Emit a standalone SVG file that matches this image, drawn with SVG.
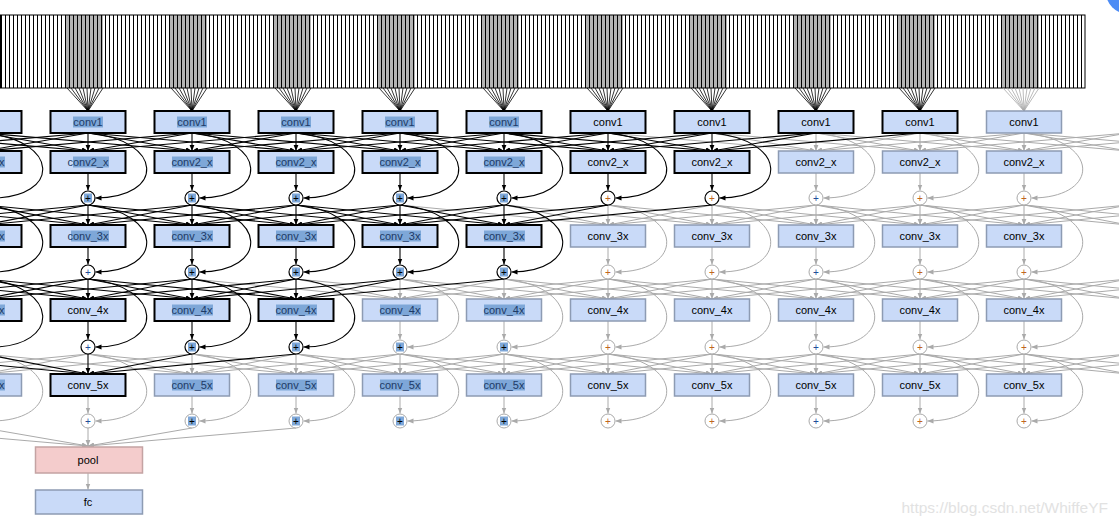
<svg xmlns="http://www.w3.org/2000/svg" width="1119" height="527" viewBox="0 0 1119 527">
<style>
.bx{fill:#c9daf8;stroke:#000;stroke-width:2}
.bg{fill:#c9daf8;stroke:#8d9bb3;stroke-width:1.5}
.t{font-family:"Liberation Sans",Arial,sans-serif;font-size:11px;text-anchor:middle;fill:#000}
.th{fill:#1d3a66}
.hl{fill:#7ea7d8}
.cb{fill:#fff;stroke:#000;stroke-width:1.2}
.cg{fill:#fff;stroke:#aaa;stroke-width:1}
.pt{font-family:"Liberation Sans",Arial,sans-serif;font-size:10px;text-anchor:middle;fill:#000}
.po{fill:#c0651d}
.pb{fill:#1f4e9a}
.lb{stroke:#000;stroke-width:1.1;fill:none;marker-end:url(#ab)}
.lg{stroke:#aaa;stroke-width:1;fill:none;marker-end:url(#ag)}
.fb{stroke:#000;stroke-width:0.8}
.fg{stroke:#aaa;stroke-width:0.8}
.band{fill:#b4b4b4}
</style>
<defs>
<marker id="ab" viewBox="0 0 10 10" refX="10" refY="5" markerWidth="6" markerHeight="6" markerUnits="userSpaceOnUse" orient="auto"><path d="M0,1 L10,5 L0,9 z" fill="#000"/></marker>
<marker id="ag" viewBox="0 0 10 10" refX="10" refY="5" markerWidth="6" markerHeight="6" markerUnits="userSpaceOnUse" orient="auto"><path d="M0,1 L10,5 L0,9 z" fill="#aaa"/></marker>
<pattern id="st" patternUnits="userSpaceOnUse" x="1" y="0" width="4" height="100"><line x1="0.5" y1="0" x2="0.5" y2="100" stroke="#000" stroke-width="1"/></pattern>
<g id="fan"><line x1="-21" y1="88" x2="0" y2="111"/><line x1="-17" y1="88" x2="0" y2="111"/><line x1="-13" y1="88" x2="0" y2="111"/><line x1="-9" y1="88" x2="0" y2="111"/><line x1="-5" y1="88" x2="0" y2="111"/><line x1="-1" y1="88" x2="0" y2="111"/><line x1="3" y1="88" x2="0" y2="111"/><line x1="7" y1="88" x2="0" y2="111"/><line x1="11" y1="88" x2="0" y2="111"/><line x1="15" y1="88" x2="0" y2="111"/></g>
<g id="b18" class="lb"><line x1="-208" y1="0" x2="0" y2="18"/><line x1="-104" y1="0" x2="0" y2="18"/><line x1="0" y1="0" x2="0" y2="18"/><line x1="104" y1="0" x2="0" y2="18"/><line x1="208" y1="0" x2="0" y2="18"/></g>
<g id="g18" class="lg"><line x1="-208" y1="0" x2="0" y2="18"/><line x1="-104" y1="0" x2="0" y2="18"/><line x1="0" y1="0" x2="0" y2="18"/><line x1="104" y1="0" x2="0" y2="18"/><line x1="208" y1="0" x2="0" y2="18"/></g>
<g id="b20" class="lb"><line x1="-208" y1="0" x2="0" y2="20"/><line x1="-104" y1="0" x2="0" y2="20"/><line x1="0" y1="0" x2="0" y2="20"/><line x1="104" y1="0" x2="0" y2="20"/><line x1="208" y1="0" x2="0" y2="20"/></g>
<g id="g20" class="lg"><line x1="-208" y1="0" x2="0" y2="20"/><line x1="-104" y1="0" x2="0" y2="20"/><line x1="0" y1="0" x2="0" y2="20"/><line x1="104" y1="0" x2="0" y2="20"/><line x1="208" y1="0" x2="0" y2="20"/></g>
</defs>
<rect x="0" y="0" width="1119" height="527" fill="#fff"/>

<g id="input-strip">
<rect class="band" x="65" y="15" width="38" height="73"/>
<rect class="band" x="169" y="15" width="38" height="73"/>
<rect class="band" x="273" y="15" width="38" height="73"/>
<rect class="band" x="377" y="15" width="38" height="73"/>
<rect class="band" x="481" y="15" width="38" height="73"/>
<rect class="band" x="585" y="15" width="38" height="73"/>
<rect class="band" x="689" y="15" width="38" height="73"/>
<rect class="band" x="793" y="15" width="38" height="73"/>
<rect class="band" x="897" y="15" width="38" height="73"/>
<rect class="band" x="1001" y="15" width="38" height="73"/>
<rect x="0.5" y="15" width="1084.5" height="73" fill="url(#st)" stroke="#000" stroke-width="1"/>
</g>

<g id="connectors">
<use href="#fan" class="fb" x="88"/>
<use href="#fan" class="fb" x="192"/>
<use href="#fan" class="fb" x="296"/>
<use href="#fan" class="fb" x="400"/>
<use href="#fan" class="fb" x="504"/>
<use href="#fan" class="fb" x="608"/>
<use href="#fan" class="fb" x="712"/>
<use href="#fan" class="fb" x="816"/>
<use href="#fan" class="fb" x="920"/>
<use href="#fan" class="fg" x="1024"/>

<use href="#g18" x="816" y="133"/><use href="#g18" x="920" y="133"/><use href="#g18" x="1024" y="133"/><use href="#g18" x="1128" y="133"/><use href="#g18" x="1232" y="133"/>
<use href="#g20" x="608" y="205"/><use href="#g20" x="712" y="205"/><use href="#g20" x="816" y="205"/><use href="#g20" x="920" y="205"/><use href="#g20" x="1024" y="205"/><use href="#g20" x="1128" y="205"/><use href="#g20" x="1232" y="205"/>
<use href="#g20" x="400" y="279"/><use href="#g20" x="504" y="279"/><use href="#g20" x="608" y="279"/><use href="#g20" x="712" y="279"/><use href="#g20" x="816" y="279"/><use href="#g20" x="920" y="279"/><use href="#g20" x="1024" y="279"/><use href="#g20" x="1128" y="279"/><use href="#g20" x="1232" y="279"/>
<use href="#g20" x="-120" y="354"/><use href="#g20" x="-16" y="354"/><use href="#g20" x="192" y="354"/><use href="#g20" x="296" y="354"/><use href="#g20" x="400" y="354"/><use href="#g20" x="504" y="354"/><use href="#g20" x="608" y="354"/><use href="#g20" x="712" y="354"/><use href="#g20" x="816" y="354"/><use href="#g20" x="920" y="354"/><use href="#g20" x="1024" y="354"/><use href="#g20" x="1128" y="354"/><use href="#g20" x="1232" y="354"/>
<use href="#g18" x="88" y="428"/>

<path class="lg" d="M816,133 C893,140 893,198 823.5,198"/>
<path class="lg" d="M920,133 C997,140 997,198 927.5,198"/>
<path class="lg" d="M1024,133 C1101,140 1101,198 1031.5,198"/>
<line class="lg" x1="816" y1="173" x2="816" y2="190.5"/>
<line class="lg" x1="920" y1="173" x2="920" y2="190.5"/>
<line class="lg" x1="1024" y1="173" x2="1024" y2="190.5"/>

<path class="lg" d="M608,205 C685,212 685,272 615.5,272"/>
<path class="lg" d="M712,205 C789,212 789,272 719.5,272"/>
<path class="lg" d="M816,205 C893,212 893,272 823.5,272"/>
<path class="lg" d="M920,205 C997,212 997,272 927.5,272"/>
<path class="lg" d="M1024,205 C1101,212 1101,272 1031.5,272"/>
<line class="lg" x1="608" y1="247" x2="608" y2="264.5"/>
<line class="lg" x1="712" y1="247" x2="712" y2="264.5"/>
<line class="lg" x1="816" y1="247" x2="816" y2="264.5"/>
<line class="lg" x1="920" y1="247" x2="920" y2="264.5"/>
<line class="lg" x1="1024" y1="247" x2="1024" y2="264.5"/>

<path class="lg" d="M400,279 C477,286 477,347 407.5,347"/>
<path class="lg" d="M504,279 C581,286 581,347 511.5,347"/>
<path class="lg" d="M608,279 C685,286 685,347 615.5,347"/>
<path class="lg" d="M712,279 C789,286 789,347 719.5,347"/>
<path class="lg" d="M816,279 C893,286 893,347 823.5,347"/>
<path class="lg" d="M920,279 C997,286 997,347 927.5,347"/>
<path class="lg" d="M1024,279 C1101,286 1101,347 1031.5,347"/>
<line class="lg" x1="400" y1="321" x2="400" y2="339.5"/>
<line class="lg" x1="504" y1="321" x2="504" y2="339.5"/>
<line class="lg" x1="608" y1="321" x2="608" y2="339.5"/>
<line class="lg" x1="712" y1="321" x2="712" y2="339.5"/>
<line class="lg" x1="816" y1="321" x2="816" y2="339.5"/>
<line class="lg" x1="920" y1="321" x2="920" y2="339.5"/>
<line class="lg" x1="1024" y1="321" x2="1024" y2="339.5"/>

<path class="lg" d="M-16,354 C61,361 61,421 -8.5,421"/>
<path class="lg" d="M88,354 C165,361 165,421 95.5,421"/>
<path class="lg" d="M192,354 C269,361 269,421 199.5,421"/>
<path class="lg" d="M296,354 C373,361 373,421 303.5,421"/>
<path class="lg" d="M400,354 C477,361 477,421 407.5,421"/>
<path class="lg" d="M504,354 C581,361 581,421 511.5,421"/>
<path class="lg" d="M608,354 C685,361 685,421 615.5,421"/>
<path class="lg" d="M712,354 C789,361 789,421 719.5,421"/>
<path class="lg" d="M816,354 C893,361 893,421 823.5,421"/>
<path class="lg" d="M920,354 C997,361 997,421 927.5,421"/>
<path class="lg" d="M1024,354 C1101,361 1101,421 1031.5,421"/>
<line class="lg" x1="88" y1="396" x2="88" y2="413.5"/>
<line class="lg" x1="192" y1="396" x2="192" y2="413.5"/>
<line class="lg" x1="296" y1="396" x2="296" y2="413.5"/>
<line class="lg" x1="400" y1="396" x2="400" y2="413.5"/>
<line class="lg" x1="504" y1="396" x2="504" y2="413.5"/>
<line class="lg" x1="608" y1="396" x2="608" y2="413.5"/>
<line class="lg" x1="712" y1="396" x2="712" y2="413.5"/>
<line class="lg" x1="816" y1="396" x2="816" y2="413.5"/>
<line class="lg" x1="920" y1="396" x2="920" y2="413.5"/>
<line class="lg" x1="1024" y1="396" x2="1024" y2="413.5"/>
<line class="lg" x1="88" y1="473" x2="88" y2="489.5"/>

<use href="#b18" x="-120" y="133"/><use href="#b18" x="-16" y="133"/><use href="#b18" x="88" y="133"/><use href="#b18" x="192" y="133"/><use href="#b18" x="296" y="133"/><use href="#b18" x="400" y="133"/><use href="#b18" x="504" y="133"/><use href="#b18" x="608" y="133"/><use href="#b18" x="712" y="133"/>
<use href="#b20" x="-120" y="205"/><use href="#b20" x="-16" y="205"/><use href="#b20" x="88" y="205"/><use href="#b20" x="192" y="205"/><use href="#b20" x="296" y="205"/><use href="#b20" x="400" y="205"/><use href="#b20" x="504" y="205"/>
<use href="#b20" x="-120" y="279"/><use href="#b20" x="-16" y="279"/><use href="#b20" x="88" y="279"/><use href="#b20" x="192" y="279"/><use href="#b20" x="296" y="279"/>
<use href="#b20" x="88" y="354"/>

<path class="lb" d="M-16,133 C61,140 61,198 -8.5,198"/>
<path class="lb" d="M88,133 C165,140 165,198 95.5,198"/>
<path class="lb" d="M192,133 C269,140 269,198 199.5,198"/>
<path class="lb" d="M296,133 C373,140 373,198 303.5,198"/>
<path class="lb" d="M400,133 C477,140 477,198 407.5,198"/>
<path class="lb" d="M504,133 C581,140 581,198 511.5,198"/>
<path class="lb" d="M608,133 C685,140 685,198 615.5,198"/>
<path class="lb" d="M712,133 C789,140 789,198 719.5,198"/>
<line class="lb" x1="88" y1="173" x2="88" y2="190.5"/>
<line class="lb" x1="192" y1="173" x2="192" y2="190.5"/>
<line class="lb" x1="296" y1="173" x2="296" y2="190.5"/>
<line class="lb" x1="400" y1="173" x2="400" y2="190.5"/>
<line class="lb" x1="504" y1="173" x2="504" y2="190.5"/>
<line class="lb" x1="608" y1="173" x2="608" y2="190.5"/>
<line class="lb" x1="712" y1="173" x2="712" y2="190.5"/>

<path class="lb" d="M-16,205 C61,212 61,272 -8.5,272"/>
<path class="lb" d="M88,205 C165,212 165,272 95.5,272"/>
<path class="lb" d="M192,205 C269,212 269,272 199.5,272"/>
<path class="lb" d="M296,205 C373,212 373,272 303.5,272"/>
<path class="lb" d="M400,205 C477,212 477,272 407.5,272"/>
<path class="lb" d="M504,205 C581,212 581,272 511.5,272"/>
<line class="lb" x1="88" y1="247" x2="88" y2="264.5"/>
<line class="lb" x1="192" y1="247" x2="192" y2="264.5"/>
<line class="lb" x1="296" y1="247" x2="296" y2="264.5"/>
<line class="lb" x1="400" y1="247" x2="400" y2="264.5"/>
<line class="lb" x1="504" y1="247" x2="504" y2="264.5"/>

<path class="lb" d="M-16,279 C61,286 61,347 -8.5,347"/>
<path class="lb" d="M88,279 C165,286 165,347 95.5,347"/>
<path class="lb" d="M192,279 C269,286 269,347 199.5,347"/>
<path class="lb" d="M296,279 C373,286 373,347 303.5,347"/>
<line class="lb" x1="88" y1="321" x2="88" y2="339.5"/>
<line class="lb" x1="192" y1="321" x2="192" y2="339.5"/>
<line class="lb" x1="296" y1="321" x2="296" y2="339.5"/>
</g>

<g id="conv1-m1"><rect class="bx" x="-53.5" y="111" width="75" height="22"/><text class="t" x="-16" y="126">conv1</text></g>
<g id="conv1-0"><rect class="bx" x="50.5" y="111" width="75" height="22"/><rect class="hl" x="73" y="116.5" width="30" height="11"/><text class="t th" x="88" y="126">conv1</text></g>
<g id="conv1-1"><rect class="bx" x="154.5" y="111" width="75" height="22"/><rect class="hl" x="177" y="116.5" width="30" height="11"/><text class="t th" x="192" y="126">conv1</text></g>
<g id="conv1-2"><rect class="bx" x="258.5" y="111" width="75" height="22"/><rect class="hl" x="281" y="116.5" width="30" height="11"/><text class="t th" x="296" y="126">conv1</text></g>
<g id="conv1-3"><rect class="bx" x="362.5" y="111" width="75" height="22"/><rect class="hl" x="385" y="116.5" width="30" height="11"/><text class="t th" x="400" y="126">conv1</text></g>
<g id="conv1-4"><rect class="bx" x="466.5" y="111" width="75" height="22"/><rect class="hl" x="489" y="116.5" width="30" height="11"/><text class="t th" x="504" y="126">conv1</text></g>
<g id="conv1-5"><rect class="bx" x="570.5" y="111" width="75" height="22"/><text class="t" x="608" y="126">conv1</text></g>
<g id="conv1-6"><rect class="bx" x="674.5" y="111" width="75" height="22"/><text class="t" x="712" y="126">conv1</text></g>
<g id="conv1-7"><rect class="bx" x="778.5" y="111" width="75" height="22"/><text class="t" x="816" y="126">conv1</text></g>
<g id="conv1-8"><rect class="bx" x="882.5" y="111" width="75" height="22"/><text class="t" x="920" y="126">conv1</text></g>
<g id="conv1-9"><rect class="bg" x="986.5" y="111" width="75" height="22"/><text class="t" x="1024" y="126">conv1</text></g>

<g id="conv2-m1"><rect class="bx" x="-53.5" y="151" width="75" height="22"/><rect class="hl" x="-37" y="156.5" width="42" height="11"/><text class="t th" x="-16" y="166">conv2_x</text></g>
<g id="conv2-0"><rect class="bx" x="50.5" y="151" width="75" height="22"/><rect class="hl" x="73" y="156.5" width="36" height="11"/><text class="t th" x="88" y="166">conv2_x</text></g>
<g id="conv2-1"><rect class="bx" x="154.5" y="151" width="75" height="22"/><rect class="hl" x="172" y="156.5" width="41" height="11"/><text class="t th" x="192" y="166">conv2_x</text></g>
<g id="conv2-2"><rect class="bx" x="258.5" y="151" width="75" height="22"/><rect class="hl" x="276" y="156.5" width="41" height="11"/><text class="t th" x="296" y="166">conv2_x</text></g>
<g id="conv2-3"><rect class="bx" x="362.5" y="151" width="75" height="22"/><rect class="hl" x="380" y="156.5" width="41" height="11"/><text class="t th" x="400" y="166">conv2_x</text></g>
<g id="conv2-4"><rect class="bx" x="466.5" y="151" width="75" height="22"/><rect class="hl" x="484" y="156.5" width="41" height="11"/><text class="t th" x="504" y="166">conv2_x</text></g>
<g id="conv2-5"><rect class="bx" x="570.5" y="151" width="75" height="22"/><text class="t" x="608" y="166">conv2_x</text></g>
<g id="conv2-6"><rect class="bx" x="674.5" y="151" width="75" height="22"/><text class="t" x="712" y="166">conv2_x</text></g>
<g id="conv2-7"><rect class="bg" x="778.5" y="151" width="75" height="22"/><text class="t" x="816" y="166">conv2_x</text></g>
<g id="conv2-8"><rect class="bg" x="882.5" y="151" width="75" height="22"/><text class="t" x="920" y="166">conv2_x</text></g>
<g id="conv2-9"><rect class="bg" x="986.5" y="151" width="75" height="22"/><text class="t" x="1024" y="166">conv2_x</text></g>

<g id="add1-0"><circle class="cb" cx="88" cy="198" r="7"/><rect class="hl" x="84" y="193.5" width="8" height="9"/><text class="pt th" x="88" y="201.5">+</text></g>
<g id="add1-1"><circle class="cb" cx="192" cy="198" r="7"/><rect class="hl" x="188" y="193.5" width="8" height="9"/><text class="pt th" x="192" y="201.5">+</text></g>
<g id="add1-2"><circle class="cb" cx="296" cy="198" r="7"/><rect class="hl" x="292" y="193.5" width="8" height="9"/><text class="pt th" x="296" y="201.5">+</text></g>
<g id="add1-3"><circle class="cb" cx="400" cy="198" r="7"/><rect class="hl" x="396" y="193.5" width="8" height="9"/><text class="pt th" x="400" y="201.5">+</text></g>
<g id="add1-4"><circle class="cb" cx="504" cy="198" r="7"/><rect class="hl" x="500" y="193.5" width="8" height="9"/><text class="pt th" x="504" y="201.5">+</text></g>
<g id="add1-5"><circle class="cb" cx="608" cy="198" r="7"/><text class="pt po" x="608" y="201.5">+</text></g>
<g id="add1-6"><circle class="cb" cx="712" cy="198" r="7"/><text class="pt po" x="712" y="201.5">+</text></g>
<g id="add1-7"><circle class="cg" cx="816" cy="198" r="7"/><text class="pt pb" x="816" y="201.5">+</text></g>
<g id="add1-8"><circle class="cg" cx="920" cy="198" r="7"/><text class="pt po" x="920" y="201.5">+</text></g>
<g id="add1-9"><circle class="cg" cx="1024" cy="198" r="7"/><text class="pt po" x="1024" y="201.5">+</text></g>

<g id="conv3-m1"><rect class="bx" x="-53.5" y="225" width="75" height="22"/><rect class="hl" x="-37" y="230.5" width="42" height="11"/><text class="t th" x="-16" y="240">conv_3x</text></g>
<g id="conv3-0"><rect class="bx" x="50.5" y="225" width="75" height="22"/><rect class="hl" x="71" y="230.5" width="38" height="11"/><text class="t th" x="88" y="240">conv_3x</text></g>
<g id="conv3-1"><rect class="bx" x="154.5" y="225" width="75" height="22"/><rect class="hl" x="172" y="230.5" width="41" height="11"/><text class="t th" x="192" y="240">conv_3x</text></g>
<g id="conv3-2"><rect class="bx" x="258.5" y="225" width="75" height="22"/><rect class="hl" x="276" y="230.5" width="41" height="11"/><text class="t th" x="296" y="240">conv_3x</text></g>
<g id="conv3-3"><rect class="bx" x="362.5" y="225" width="75" height="22"/><rect class="hl" x="380" y="230.5" width="41" height="11"/><text class="t th" x="400" y="240">conv_3x</text></g>
<g id="conv3-4"><rect class="bx" x="466.5" y="225" width="75" height="22"/><rect class="hl" x="484" y="230.5" width="41" height="11"/><text class="t th" x="504" y="240">conv_3x</text></g>
<g id="conv3-5"><rect class="bg" x="570.5" y="225" width="75" height="22"/><text class="t" x="608" y="240">conv_3x</text></g>
<g id="conv3-6"><rect class="bg" x="674.5" y="225" width="75" height="22"/><text class="t" x="712" y="240">conv_3x</text></g>
<g id="conv3-7"><rect class="bg" x="778.5" y="225" width="75" height="22"/><text class="t" x="816" y="240">conv_3x</text></g>
<g id="conv3-8"><rect class="bg" x="882.5" y="225" width="75" height="22"/><text class="t" x="920" y="240">conv_3x</text></g>
<g id="conv3-9"><rect class="bg" x="986.5" y="225" width="75" height="22"/><text class="t" x="1024" y="240">conv_3x</text></g>

<g id="add2-0"><circle class="cb" cx="88" cy="272" r="7"/><text class="pt pb" x="88" y="275.5">+</text></g>
<g id="add2-1"><circle class="cb" cx="192" cy="272" r="7"/><rect class="hl" x="188" y="267.5" width="8" height="9"/><text class="pt th" x="192" y="275.5">+</text></g>
<g id="add2-2"><circle class="cb" cx="296" cy="272" r="7"/><rect class="hl" x="292" y="267.5" width="8" height="9"/><text class="pt th" x="296" y="275.5">+</text></g>
<g id="add2-3"><circle class="cb" cx="400" cy="272" r="7"/><rect class="hl" x="396" y="267.5" width="8" height="9"/><text class="pt th" x="400" y="275.5">+</text></g>
<g id="add2-4"><circle class="cb" cx="504" cy="272" r="7"/><rect class="hl" x="500" y="267.5" width="8" height="9"/><text class="pt th" x="504" y="275.5">+</text></g>
<g id="add2-5"><circle class="cg" cx="608" cy="272" r="7"/><text class="pt po" x="608" y="275.5">+</text></g>
<g id="add2-6"><circle class="cg" cx="712" cy="272" r="7"/><text class="pt po" x="712" y="275.5">+</text></g>
<g id="add2-7"><circle class="cg" cx="816" cy="272" r="7"/><text class="pt pb" x="816" y="275.5">+</text></g>
<g id="add2-8"><circle class="cg" cx="920" cy="272" r="7"/><text class="pt po" x="920" y="275.5">+</text></g>
<g id="add2-9"><circle class="cg" cx="1024" cy="272" r="7"/><text class="pt po" x="1024" y="275.5">+</text></g>

<g id="conv4-m1"><rect class="bx" x="-53.5" y="299" width="75" height="22"/><rect class="hl" x="-37" y="304.5" width="42" height="11"/><text class="t th" x="-16" y="314">conv_4x</text></g>
<g id="conv4-0"><rect class="bx" x="50.5" y="299" width="75" height="22"/><text class="t" x="88" y="314">conv_4x</text></g>
<g id="conv4-1"><rect class="bx" x="154.5" y="299" width="75" height="22"/><rect class="hl" x="172" y="304.5" width="41" height="11"/><text class="t th" x="192" y="314">conv_4x</text></g>
<g id="conv4-2"><rect class="bx" x="258.5" y="299" width="75" height="22"/><rect class="hl" x="276" y="304.5" width="41" height="11"/><text class="t th" x="296" y="314">conv_4x</text></g>
<g id="conv4-3"><rect class="bg" x="362.5" y="299" width="75" height="22"/><rect class="hl" x="380" y="304.5" width="41" height="11"/><text class="t th" x="400" y="314">conv_4x</text></g>
<g id="conv4-4"><rect class="bg" x="466.5" y="299" width="75" height="22"/><rect class="hl" x="484" y="304.5" width="41" height="11"/><text class="t th" x="504" y="314">conv_4x</text></g>
<g id="conv4-5"><rect class="bg" x="570.5" y="299" width="75" height="22"/><text class="t" x="608" y="314">conv_4x</text></g>
<g id="conv4-6"><rect class="bg" x="674.5" y="299" width="75" height="22"/><text class="t" x="712" y="314">conv_4x</text></g>
<g id="conv4-7"><rect class="bg" x="778.5" y="299" width="75" height="22"/><text class="t" x="816" y="314">conv_4x</text></g>
<g id="conv4-8"><rect class="bg" x="882.5" y="299" width="75" height="22"/><text class="t" x="920" y="314">conv_4x</text></g>
<g id="conv4-9"><rect class="bg" x="986.5" y="299" width="75" height="22"/><text class="t" x="1024" y="314">conv_4x</text></g>

<g id="add3-0"><circle class="cb" cx="88" cy="347" r="7"/><text class="pt pb" x="88" y="350.5">+</text></g>
<g id="add3-1"><circle class="cb" cx="192" cy="347" r="7"/><rect class="hl" x="188" y="342.5" width="8" height="9"/><text class="pt th" x="192" y="350.5">+</text></g>
<g id="add3-2"><circle class="cb" cx="296" cy="347" r="7"/><rect class="hl" x="292" y="342.5" width="8" height="9"/><text class="pt th" x="296" y="350.5">+</text></g>
<g id="add3-3"><circle class="cg" cx="400" cy="347" r="7"/><rect class="hl" x="396" y="342.5" width="8" height="9"/><text class="pt th" x="400" y="350.5">+</text></g>
<g id="add3-4"><circle class="cg" cx="504" cy="347" r="7"/><rect class="hl" x="500" y="342.5" width="8" height="9"/><text class="pt th" x="504" y="350.5">+</text></g>
<g id="add3-5"><circle class="cg" cx="608" cy="347" r="7"/><text class="pt po" x="608" y="350.5">+</text></g>
<g id="add3-6"><circle class="cg" cx="712" cy="347" r="7"/><text class="pt po" x="712" y="350.5">+</text></g>
<g id="add3-7"><circle class="cg" cx="816" cy="347" r="7"/><text class="pt pb" x="816" y="350.5">+</text></g>
<g id="add3-8"><circle class="cg" cx="920" cy="347" r="7"/><text class="pt po" x="920" y="350.5">+</text></g>
<g id="add3-9"><circle class="cg" cx="1024" cy="347" r="7"/><text class="pt po" x="1024" y="350.5">+</text></g>

<g id="conv5-m1"><rect class="bg" x="-53.5" y="374" width="75" height="22"/><rect class="hl" x="-37" y="379.5" width="42" height="11"/><text class="t th" x="-16" y="389">conv_5x</text></g>
<g id="conv5-0"><rect class="bx" x="50.5" y="374" width="75" height="22"/><text class="t" x="88" y="389">conv_5x</text></g>
<g id="conv5-1"><rect class="bg" x="154.5" y="374" width="75" height="22"/><rect class="hl" x="172" y="379.5" width="41" height="11"/><text class="t th" x="192" y="389">conv_5x</text></g>
<g id="conv5-2"><rect class="bg" x="258.5" y="374" width="75" height="22"/><rect class="hl" x="276" y="379.5" width="41" height="11"/><text class="t th" x="296" y="389">conv_5x</text></g>
<g id="conv5-3"><rect class="bg" x="362.5" y="374" width="75" height="22"/><rect class="hl" x="380" y="379.5" width="41" height="11"/><text class="t th" x="400" y="389">conv_5x</text></g>
<g id="conv5-4"><rect class="bg" x="466.5" y="374" width="75" height="22"/><rect class="hl" x="484" y="379.5" width="41" height="11"/><text class="t th" x="504" y="389">conv_5x</text></g>
<g id="conv5-5"><rect class="bg" x="570.5" y="374" width="75" height="22"/><text class="t" x="608" y="389">conv_5x</text></g>
<g id="conv5-6"><rect class="bg" x="674.5" y="374" width="75" height="22"/><text class="t" x="712" y="389">conv_5x</text></g>
<g id="conv5-7"><rect class="bg" x="778.5" y="374" width="75" height="22"/><text class="t" x="816" y="389">conv_5x</text></g>
<g id="conv5-8"><rect class="bg" x="882.5" y="374" width="75" height="22"/><text class="t" x="920" y="389">conv_5x</text></g>
<g id="conv5-9"><rect class="bg" x="986.5" y="374" width="75" height="22"/><text class="t" x="1024" y="389">conv_5x</text></g>

<g id="add4-0"><circle class="cg" cx="88" cy="421" r="7"/><text class="pt pb" x="88" y="424.5">+</text></g>
<g id="add4-1"><circle class="cg" cx="192" cy="421" r="7"/><rect class="hl" x="188" y="416.5" width="8" height="9"/><text class="pt th" x="192" y="424.5">+</text></g>
<g id="add4-2"><circle class="cg" cx="296" cy="421" r="7"/><rect class="hl" x="292" y="416.5" width="8" height="9"/><text class="pt th" x="296" y="424.5">+</text></g>
<g id="add4-3"><circle class="cg" cx="400" cy="421" r="7"/><rect class="hl" x="396" y="416.5" width="8" height="9"/><text class="pt th" x="400" y="424.5">+</text></g>
<g id="add4-4"><circle class="cg" cx="504" cy="421" r="7"/><rect class="hl" x="500" y="416.5" width="8" height="9"/><text class="pt th" x="504" y="424.5">+</text></g>
<g id="add4-5"><circle class="cg" cx="608" cy="421" r="7"/><text class="pt po" x="608" y="424.5">+</text></g>
<g id="add4-6"><circle class="cg" cx="712" cy="421" r="7"/><text class="pt po" x="712" y="424.5">+</text></g>
<g id="add4-7"><circle class="cg" cx="816" cy="421" r="7"/><text class="pt pb" x="816" y="424.5">+</text></g>
<g id="add4-8"><circle class="cg" cx="920" cy="421" r="7"/><text class="pt po" x="920" y="424.5">+</text></g>
<g id="add4-9"><circle class="cg" cx="1024" cy="421" r="7"/><text class="pt po" x="1024" y="424.5">+</text></g>

<g id="pool"><rect x="35.5" y="447" width="107" height="26" fill="#f4cccc" stroke="#c4a3a3" stroke-width="1.5"/><text class="t" x="88" y="464">pool</text></g>
<g id="fc"><rect x="35.5" y="490" width="107" height="24" fill="#c9daf8" stroke="#8d9bb3" stroke-width="1.5"/><text class="t" x="88" y="506">fc</text></g>

<text x="1108" y="513" font-family="Liberation Sans, Arial, sans-serif" font-size="15.5" fill="#e2e2e2" text-anchor="end">https://blog.csdn.net/WhiffeYF</text>
<circle cx="1128" cy="-8" r="22" fill="#4d8cf5"/>
</svg>
